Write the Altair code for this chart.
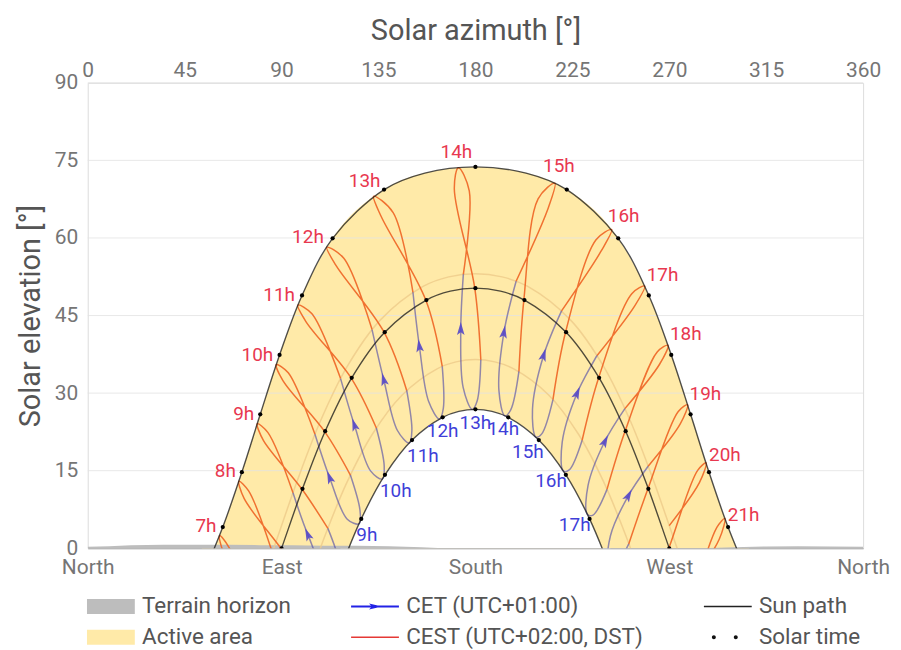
import math
import altair as alt
import pandas as pd

PLOT_W = 778
PLOT_H = 467
FONT = "Roboto"

# ---------------- axes ----------------
ELEV_TICKS = [0, 15, 30, 45, 60, 75, 90]
AZ_TICKS = [0, 45, 90, 135, 180, 225, 270, 315, 360]
COMPASS_TICKS = [0, 90, 180, 270, 360]
COMPASS_NAMES = ["North", "East", "South", "West", "North"]

# ---------------- sun paths (azimuth, elevation) ----------------
SUMMER_AZ = [53.0, 62.7, 71.56, 80.1, 89.07, 99.5, 113.7, 137.6, 156.5, 180.0, 203.5, 222.4, 246.3, 260.5, 270.93, 279.9, 288.44, 297.3, 307.0]
SUMMER_EL = [-5.68, 4.09, 14.72, 25.9, 37.38, 48.88, 59.93, 69.36, 72.55, 73.74, 72.55, 69.36, 59.93, 48.88, 37.38, 25.9, 14.72, 4.09, -5.68]
EQUINOX_AZ = [80.29, 90.0, 99.71, 110.24, 122.57, 137.9, 157.24, 168.35, 180.0, 191.65, 202.76, 222.1, 237.43, 249.76, 260.29, 270.0, 279.71]
EQUINOX_EL = [-11.49, 0.0, 11.49, 22.63, 32.96, 41.78, 48.0, 49.71, 50.3, 49.71, 48.0, 41.78, 32.96, 22.63, 11.49, 0.0, -11.49]
WINTER_AZ = [117.3, 127.0, 138.0, 150.58, 164.77, 172.3, 180.0, 187.7, 195.23, 209.42, 222.0, 233.0, 242.7]
WINTER_EL = [-4.09, 5.68, 14.19, 20.93, 25.32, 26.47, 26.86, 26.47, 25.32, 20.93, 14.19, 5.68, -4.09]
DST_START_AZ = [78.1, 87.85, 97.5, 108.0, 120.35, 135.9, 155.9, 167.6, 180.0, 192.4, 204.1, 224.1, 239.65, 252.0, 262.5, 272.15, 281.9]
DST_START_EL = [-9.65, 1.79, 13.3, 24.55, 35.07, 44.16, 50.67, 52.48, 53.1, 52.48, 50.67, 44.16, 35.07, 24.55, 13.3, 1.79, -9.65]
DST_END_AZ = [100.7, 110.1, 120.4, 132.2, 146.0, 162.2, 171.0, 180.0, 189.0, 197.8, 214.0, 227.8, 239.6, 249.9, 259.3]
DST_END_EL = [-8.77, 2.35, 12.78, 22.09, 29.65, 34.7, 36.04, 36.5, 36.04, 34.7, 29.65, 22.09, 12.78, 2.35, -8.77]

# ---------------- solar-time dots ----------------
SUMMER_DOT_AZ = [62.7, 71.56, 80.1, 89.07, 99.5, 113.7, 137.6, 180.0, 222.4, 246.3, 260.5, 270.93, 279.9, 288.44, 297.3]
SUMMER_DOT_EL = [4.09, 14.72, 25.9, 37.38, 48.88, 59.93, 69.36, 73.74, 69.36, 59.93, 48.88, 37.38, 25.9, 14.72, 4.09]
EQUINOX_DOT_AZ = [90.0, 99.71, 110.24, 122.57, 137.9, 157.24, 180.0, 202.76, 222.1, 237.43, 249.76, 260.29, 270.0]
EQUINOX_DOT_EL = [0.0, 11.49, 22.63, 32.96, 41.78, 48.0, 50.3, 48.0, 41.78, 32.96, 22.63, 11.49, 0.0]
WINTER_DOT_AZ = [127.0, 138.0, 150.58, 164.77, 180.0, 195.23, 209.42, 222.0, 233.0]
WINTER_DOT_EL = [5.68, 14.19, 20.93, 25.32, 26.86, 25.32, 20.93, 14.19, 5.68]

# ---------------- terrain horizon ----------------
TERRAIN_AZ = [0, 10, 20, 35, 50, 65, 80, 95, 110, 125, 140, 155, 165, 285, 300, 315, 330, 345, 360]
TERRAIN_EL = [0.3, 0.4, 0.6, 0.7, 0.7, 0.7, 0.6, 0.6, 0.5, 0.5, 0.4, 0.2, 0.0, 0.0, 0.2, 0.35, 0.4, 0.35, 0.3]

# ---------------- analemmas: CEST part (red) ----------------
CEST_LABELS = ["7h", "8h", "9h", "10h", "11h", "12h", "13h", "14h", "15h", "16h", "17h", "18h", "19h", "20h", "21h"]
RED_AZ = [
    [75.9, 65.5, 61.2, 63.3, 80.2],
    [85.7, 74.7, 70.2, 72.6, 89.9, 102.0],
    [95.3, 83.6, 78.7, 81.55, 99.6, 111.5],
    [105.5, 93.1, 87.55, 90.7, 110.1, 121.95],
    [117.4, 104.1, 97.6, 101.3, 122.4, 134.0],
    [132.0, 118.9, 111.0, 115.1, 137.7, 148.1],
    [151.0, 141.8, 132.7, 136.2, 157.0, 164.6],
    [174.4, 177.15, 172.1, 170.2, 179.7, 182.5],
    [198.9, 213.9, 216.9, 209.1, 202.5, 200.2],
    [220.0, 238.4, 243.3, 236.0, 221.9, 216.0],
    [236.5, 254.05, 258.6, 252.6, 237.3, 229.55],
    [249.4, 265.5, 269.4, 264.4, 249.6, 241.1],
    [260.2, 275.1, 278.5, 274.1, 260.2, 251.2],
    [270.0, 284.0, 287.1, 283.1, 269.9, 260.6],
    [279.6, 293.2, 295.8, 292.1, 279.6],
]
RED_EL = [
    [-12.2, 0.24, 2.45, -1.05, -11.6],
    [-0.8, 11.08, 12.96, 9.63, -0.13, -7.2],
    [10.72, 22.41, 24.07, 20.87, 11.35, 3.84],
    [22.06, 33.92, 35.5, 32.37, 22.5, 14.15],
    [32.81, 45.33, 47.03, 43.84, 32.85, 23.25],
    [42.29, 56.07, 58.2, 54.78, 41.69, 30.52],
    [49.5, 64.9, 68.07, 64.2, 47.95, 35.16],
    [52.98, 69.1, 73.6, 69.53, 50.3, 36.46],
    [51.63, 65.9, 70.58, 67.55, 48.06, 34.19],
    [45.91, 57.49, 61.62, 59.65, 41.87, 28.74],
    [37.28, 46.93, 50.69, 49.23, 33.07, 20.89],
    [27.0, 35.58, 39.24, 37.94, 22.75, 11.39],
    [15.87, 24.05, 27.74, 26.41, 11.62, 0.84],
    [4.38, 12.69, 16.5, 15.02, 0.13, -10.34],
    [-7.1, 1.75, 5.76, 4.03, -11.4],
]

# ---------------- analemmas: CET part (blue) ----------------
CET_LABELS = ["9h", "10h", "11h", "12h", "13h", "14h", "15h", "16h", "17h"]
BLUE_AZ = [
    [111.5, 116.6, 116.4, 110.8, 102.3, 95.3],
    [121.95, 126.4, 126.0, 120.5, 112.4, 105.5],
    [134.0, 137.65, 136.8, 131.3, 123.9, 117.4],
    [148.1, 150.5, 149.25, 143.8, 137.5, 132.0],
    [164.6, 165.1, 163.3, 158.3, 154.0, 151.0],
    [182.5, 180.8, 178.5, 174.3, 173.2, 174.4],
    [200.2, 196.4, 193.7, 190.9, 193.2, 198.9],
    [216.0, 210.8, 208.1, 206.5, 211.6, 220.0],
    [229.55, 223.55, 220.8, 220.3, 227.1, 236.5],
    [241.1, 234.6, 231.95, 232.3, 240.0, 249.4],
    [251.2, 244.4, 241.8, 242.7, 250.9, 260.2],
]
BLUE_EL = [
    [3.84, -2.49, -5.12, -4.77, 2.54, 10.72],
    [14.15, 7.35, 4.74, 5.62, 13.55, 22.06],
    [23.25, 15.93, 13.4, 14.97, 23.72, 32.81],
    [30.52, 22.71, 20.35, 22.77, 32.48, 42.29],
    [35.16, 27.07, 25.0, 28.37, 38.99, 49.5],
    [36.46, 28.49, 26.85, 31.1, 42.27, 52.98],
    [34.19, 26.76, 25.61, 30.58, 41.63, 51.63],
    [28.74, 22.12, 21.49, 26.87, 37.21, 45.91],
    [20.89, 15.14, 14.95, 20.51, 29.87, 37.28],
    [11.39, 6.42, 6.59, 12.16, 20.59, 27.0],
    [0.84, -3.52, -3.07, 2.42, 10.1, 15.87],
]

LEGEND_NAMES = ["Terrain horizon", "CET (UTC+01:00)", "Sun path",
                "Active area", "CEST (UTC+02:00, DST)", "Solar time"]

# ---------------- styles ----------------
YELLOW = "#FFEAA8"
RED_LINE = "#EE6424"
BLUE_LINE = "#4A44A6"
ARROW_COLOR = "#5548C8"
RED_TEXT = "#E8384F"
BLUE_TEXT = "#3F3FD8"
GRID = "#E2E2E2"

LEGEND_COLORS = ["#BDBDBD", "#2222E6", "#222222", YELLOW, "#E53935", "#111111"]
# legend symbols: 10 px per unit, 48 px wide
RECT = "M-2.4,-0.75H2.4V0.75H-2.4Z"
LINE = "M-2.4,-0.08H2.4V0.08H-2.4Z"
ARROW_LINE = "M-2.4,-0.1H2.4V0.1H-2.4Z M-0.6,-0.3L0.7,0L-0.6,0.3L-0.3,0Z"
DOTS = ("M-1.2,0A0.2,0.2 0 1,1 -1.6,0A0.2,0.2 0 1,1 -1.2,0Z "
        "M1.0,0A0.2,0.2 0 1,1 0.6,0A0.2,0.2 0 1,1 1.0,0Z")
LEGEND_SHAPES = [RECT, ARROW_LINE, LINE, RECT, LINE, DOTS]
ARROW_PATH = "M0,-1L0.5,0.7L0,0.35L-0.5,0.7Z"

# ---------------- data frames ----------------
def curve_df(az, el, name):
    return pd.DataFrame({"az": az, "el": el, "curve": name, "i": range(len(az))})

summer_df = curve_df(SUMMER_AZ, SUMMER_EL, "summer")
winter_df = curve_df(WINTER_AZ, WINTER_EL, "winter")
paths_df = pd.concat([summer_df, curve_df(EQUINOX_AZ, EQUINOX_EL, "equinox"), winter_df])
faint_df = pd.concat([curve_df(DST_START_AZ, DST_START_EL, "start"),
                      curve_df(DST_END_AZ, DST_END_EL, "end")])
dots_df = pd.DataFrame({"az": SUMMER_DOT_AZ + EQUINOX_DOT_AZ + WINTER_DOT_AZ,
                        "el": SUMMER_DOT_EL + EQUINOX_DOT_EL + WINTER_DOT_EL})
terrain_df = pd.DataFrame({"az": TERRAIN_AZ, "el": TERRAIN_EL})
grid_df = pd.DataFrame({"el": ELEV_TICKS[1:]})
area_summer = pd.DataFrame({"az": SUMMER_AZ, "el": SUMMER_EL})
area_winter = pd.DataFrame({"az": WINTER_AZ, "el": WINTER_EL})

red_rows = []
for k, (azs, els) in enumerate(zip(RED_AZ, RED_EL)):
    for i, (a, e) in enumerate(zip(azs, els)):
        red_rows.append({"hour": k, "i": i, "az": a, "el": e})
red_df = pd.DataFrame(red_rows)

blue_rows = []
arrow_rows = []
kx = PLOT_W / 360.0
ky = PLOT_H / 90.0
for k, (azs, els) in enumerate(zip(BLUE_AZ, BLUE_EL)):
    for i, (a, e) in enumerate(zip(azs, els)):
        blue_rows.append({"hour": k, "i": i, "az": a, "el": e})
    ang = math.degrees(math.atan2((azs[5] - azs[3]) * kx, (els[5] - els[3]) * ky)) % 360
    arrow_rows.append({"az": azs[4], "el": els[4], "ang": ang})
blue_df = pd.DataFrame(blue_rows)
arrow_df = pd.DataFrame(arrow_rows)

red_lab = pd.DataFrame({"label": CEST_LABELS,
                        "az": [a[2] for a in RED_AZ],
                        "el": [e[2] for e in RED_EL],
                        "k": range(len(CEST_LABELS))})
blue_lab = pd.DataFrame({"label": CET_LABELS, "az": WINTER_DOT_AZ, "el": WINTER_DOT_EL,
                         "k": range(len(CET_LABELS))})
legend_df = pd.DataFrame({"name": LEGEND_NAMES, "az": [0.0] * 6, "el": [-50.0] * 6})

# ---------------- encodings ----------------
XS = alt.Scale(domain=[0, 360], nice=False, zero=False)
YS = alt.Scale(domain=[0, 90], nice=False, zero=False)


def X(axis=None):
    return alt.X("az:Q", scale=XS, axis=axis)


def Y(axis=None):
    return alt.Y("el:Q", scale=YS, axis=axis)


top_axis = alt.Axis(orient="top", values=AZ_TICKS, title="Solar azimuth [°]",
                    titleFont=FONT, titleFontSize=29, titleFontWeight="normal",
                    titleColor="#555555", titlePadding=14,
                    labelFont=FONT, labelFontSize=21, labelColor="#757575",
                    labelPadding=2, ticks=False, tickSize=0, domain=False, grid=False,
                    labelFlush=False, labelOverlap=False)
expr = " : ".join(f"datum.value == {v} ? '{n}'" for v, n in zip(COMPASS_TICKS, COMPASS_NAMES)) + " : ''"
bottom_axis = alt.Axis(orient="bottom", values=COMPASS_TICKS, labelExpr=expr, title=None,
                       labelFont=FONT, labelFontSize=21, labelColor="#757575",
                       labelPadding=8, ticks=False, tickSize=0, domain=True,
                       domainColor="#A8A8A8", grid=False, labelFlush=False,
                       labelOverlap=False)
left_axis = alt.Axis(orient="left", values=ELEV_TICKS, title="Solar elevation [°]",
                     titleFont=FONT, titleFontSize=29, titleFontWeight="normal",
                     titleColor="#555555", titlePadding=9,
                     labelFont=FONT, labelFontSize=21, labelColor="#757575",
                     labelPadding=10, ticks=False, tickSize=0, domain=False, grid=False)

active = alt.Chart(area_summer).mark_area(color=YELLOW, interpolate="monotone", clip=True).encode(
    x=X(top_axis), y=Y(left_axis), y2=alt.datum(0))
dome = alt.Chart(area_winter).mark_area(color="#FFFFFF", interpolate="monotone", clip=True).encode(
    x=X(bottom_axis), y=Y(), y2=alt.datum(0))
grid = alt.Chart(grid_df).mark_rule(color=GRID, strokeWidth=1, opacity=0.8).encode(y=Y())
terrain = alt.Chart(terrain_df).mark_area(color="#BDBDBD", clip=True).encode(
    x=X(), y=Y(), y2=alt.datum(0))
faint = alt.Chart(faint_df).mark_line(color="#EDCB8A", strokeWidth=1.5, opacity=0.8,
                                      interpolate="catmull-rom", clip=True).encode(
    x=X(), y=Y(), detail="curve:N", order="i:Q")
red = alt.Chart(red_df).mark_line(color=RED_LINE, strokeWidth=1.5, opacity=0.9,
                                  interpolate="catmull-rom", clip=True).encode(
    x=X(), y=Y(), detail="hour:N", order="i:Q")
blue = alt.Chart(blue_df).mark_line(color=BLUE_LINE, strokeWidth=1.5, opacity=0.6,
                                    interpolate="catmull-rom", clip=True).encode(
    x=X(), y=Y(), detail="hour:N", order="i:Q")
paths = alt.Chart(paths_df).mark_line(color="#151515", strokeWidth=1.4, opacity=0.75,
                                      interpolate="catmull-rom", clip=True).encode(
    x=X(), y=Y(), detail="curve:N", order="i:Q")
dots = alt.Chart(dots_df).mark_circle(size=18, color="#000000", opacity=1, clip=True).encode(
    x=X(), y=Y())
arrows = alt.Chart(arrow_df).mark_point(shape=ARROW_PATH, filled=True, size=230,
                                        color=ARROW_COLOR, opacity=0.9, clip=True).encode(
    x=X(), y=Y(), angle=alt.Angle("ang:Q", scale=None))


def labels(df, keys, color, align, dx, dy):
    sub = df[df["k"].isin(keys)]
    return alt.Chart(sub).mark_text(font=FONT, fontSize=19, color=color, align=align,
                                    baseline="middle", dx=dx, dy=dy).encode(
        x=X(), y=Y(), text="label:N")


red_labels = [
    labels(red_lab, [0, 1, 2, 3, 4, 5], RED_TEXT, "right", -3, -10),
    labels(red_lab, [6], RED_TEXT, "right", 7, -15),
    labels(red_lab, [7], RED_TEXT, "center", -2, -16),
    labels(red_lab, [8], RED_TEXT, "center", 4, -17),
    labels(red_lab, [9], RED_TEXT, "left", -4, -14),
    labels(red_lab, [10, 11, 12], RED_TEXT, "left", 2, -11),
    labels(red_lab, [13], RED_TEXT, "left", 3, -8),
    labels(red_lab, [14], RED_TEXT, "left", 3, -3),
]
blue_labels = [
    labels(blue_lab, [0, 1, 2], BLUE_TEXT, "left", -5, 16),
    labels(blue_lab, [3, 4], BLUE_TEXT, "center", 0, 14),
    labels(blue_lab, [5], BLUE_TEXT, "center", -5, 12),
    labels(blue_lab, [6], BLUE_TEXT, "right", 5, 12),
    labels(blue_lab, [7, 8], BLUE_TEXT, "right", 1, 6),
]

LEG = alt.Legend(orient="none", legendX=12, legendY=514, direction="horizontal", columns=3,
                 title=None, labelFont=FONT, labelFontSize=22.5, labelColor="#555555",
                 symbolSize=400, labelOffset=20, columnPadding=60, rowPadding=8,
                 labelLimit=400, symbolStrokeWidth=0, symbolOpacity=1, padding=0)
legend_layer = alt.Chart(legend_df).mark_point(filled=True, opacity=1, size=400, clip=True).encode(
    x=X(), y=Y(),
    color=alt.Color("name:N", scale=alt.Scale(domain=LEGEND_NAMES, range=LEGEND_COLORS), legend=LEG),
    shape=alt.Shape("name:N", scale=alt.Scale(domain=LEGEND_NAMES, range=LEGEND_SHAPES), legend=LEG),
)

chart = alt.layer(
    active, dome, grid, terrain, faint, red, blue, paths, dots, arrows,
    *red_labels, *blue_labels, legend_layer,
).resolve_axis(x="independent", y="independent").properties(
    width=PLOT_W, height=PLOT_H,
    autosize=alt.AutoSizeParams(type="none"),
    padding={"left": 80, "top": 74, "right": 30, "bottom": 100},
).configure_view(stroke=None).configure(font=FONT)

chart.save("out.html", embed_options={"renderer": "svg", "actions": False})
